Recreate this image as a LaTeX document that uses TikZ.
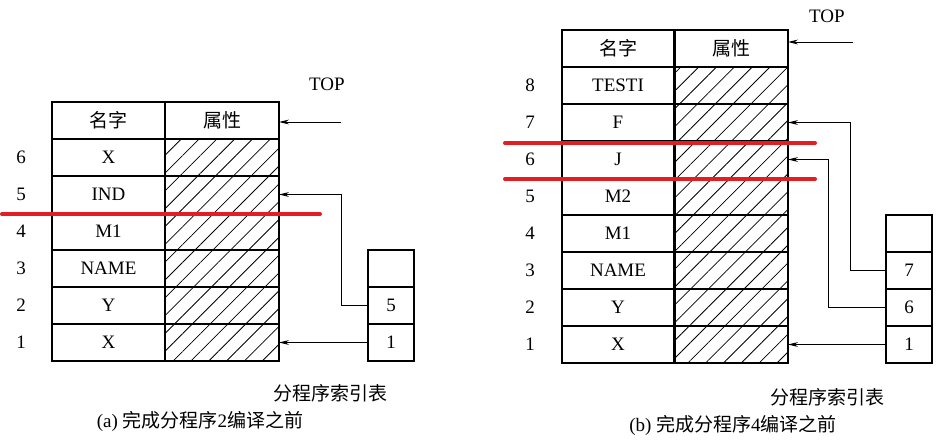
\documentclass[tikz,border=0pt]{standalone}
\usepackage{fontspec}
\setmainfont{Liberation Serif}
\newfontfamily\cjk{Noto Sans CJK SC}
\usetikzlibrary{arrows.meta,patterns.meta}

\definecolor{markred}{RGB}{225,30,35}

\tikzset{
  cell/.style={draw,line width=1pt,minimum height=18.5pt,inner sep=0pt,outer sep=0pt},
  namecell/.style={cell,minimum width=56.5pt},
  attrcell/.style={cell,minimum width=57pt},
  hatched/.style={attrcell,pattern={Lines[angle=45,distance=6.3pt,line width=0.4pt]}},
  idxcell/.style={cell,minimum width=23pt},
  ptr/.style={-{Stealth[length=5pt,width=2.4pt]},line width=0.5pt},
  redline/.style={line width=2pt,draw=markred,line cap=round},
}

\begin{document}
\begin{tikzpicture}[x=0.5pt,y=-0.5pt,font=\fontsize{9.5}{11}\selectfont]
    \useasboundingbox (0,0) rectangle (944,445);

    % (a) before block 2 is compiled
    \node[namecell] (anh) at (108.5,120.5) {\cjk 名字};
    \node[attrcell] (aah) at (222,120.5) {\cjk 属性};
    \foreach \k/\nm in {6/X,5/IND,4/M1,3/NAME,2/Y,1/X} {
      \node[namecell] (an\k) at (108.5,{120.5+37*(7-\k)}) {\nm};
      \node[hatched] (aat\k) at (222,{120.5+37*(7-\k)}) {};
      \node (anum\k) at (21,{120.5+37*(7-\k)}) {\k};
    }
    \foreach \k/\v in {3/{},2/5,1/1}
      \node[idxcell] (aix\k) at (391,{120.5+37*(7-\k)}) {\v};

    \node (atoplbl) at (327,84) {TOP};
    \coordinate (atop) at (341,122);
    \draw[ptr] (atop) -- (atop -| aah.east);
    \draw[ptr] (aix2.west) -- ++(-27,0) |- (aat5.east);
    \draw[ptr] (aix1.west) -- (aat1.east);

    \node (aidx) at (330,393) {\cjk 分程序索引表};
    \node (acap) at (200,421) {(a) {\cjk 完成分程序}2{\cjk 编译之前}};

    % (b) before block 4 is compiled
    \node[namecell] (bnh) at (618,48.5) {\cjk 名字};
    \node[attrcell] (bah) at (731,48.5) {\cjk 属性};
    \foreach \k/\nm in {8/TESTI,7/F,6/J,5/M2,4/M1,3/NAME,2/Y,1/X} {
      \node[namecell] (bn\k) at (618,{48.5+37*(9-\k)}) {\nm};
      \node[hatched] (bat\k) at (731,{48.5+37*(9-\k)}) {};
      \node (bnum\k) at (530,{48.5+37*(9-\k)}) {\k};
    }
    \foreach \k/\v in {4/{},3/7,2/6,1/1}
      \node[idxcell] (bix\k) at (909,{48.5+37*(9-\k)}) {\v};

    \node (btoplbl) at (827,16) {TOP};
    \coordinate (btop) at (853,42);
    \draw[ptr] (btop) -- (btop -| bah.east);
    \draw[ptr] (bix3.west) -- ++(-36,0) |- (bat7.east);
    \draw[ptr] (bix2.west) -- ++(-58,0) |- (bat6.east);
    \draw[ptr] (bix1.west) -- (bat1.east);

    \node (bidx) at (827,397) {\cjk 分程序索引表};
    \node (bcap) at (733,425) {(b) {\cjk 完成分程序}4{\cjk 编译之前}};

    % red marks
    \draw[redline] (2,214) -- (320,214);
    \draw[redline] (505,143) -- (815,143);
    \draw[redline] (505,179) -- (815,179);
\end{tikzpicture}
\end{document}
